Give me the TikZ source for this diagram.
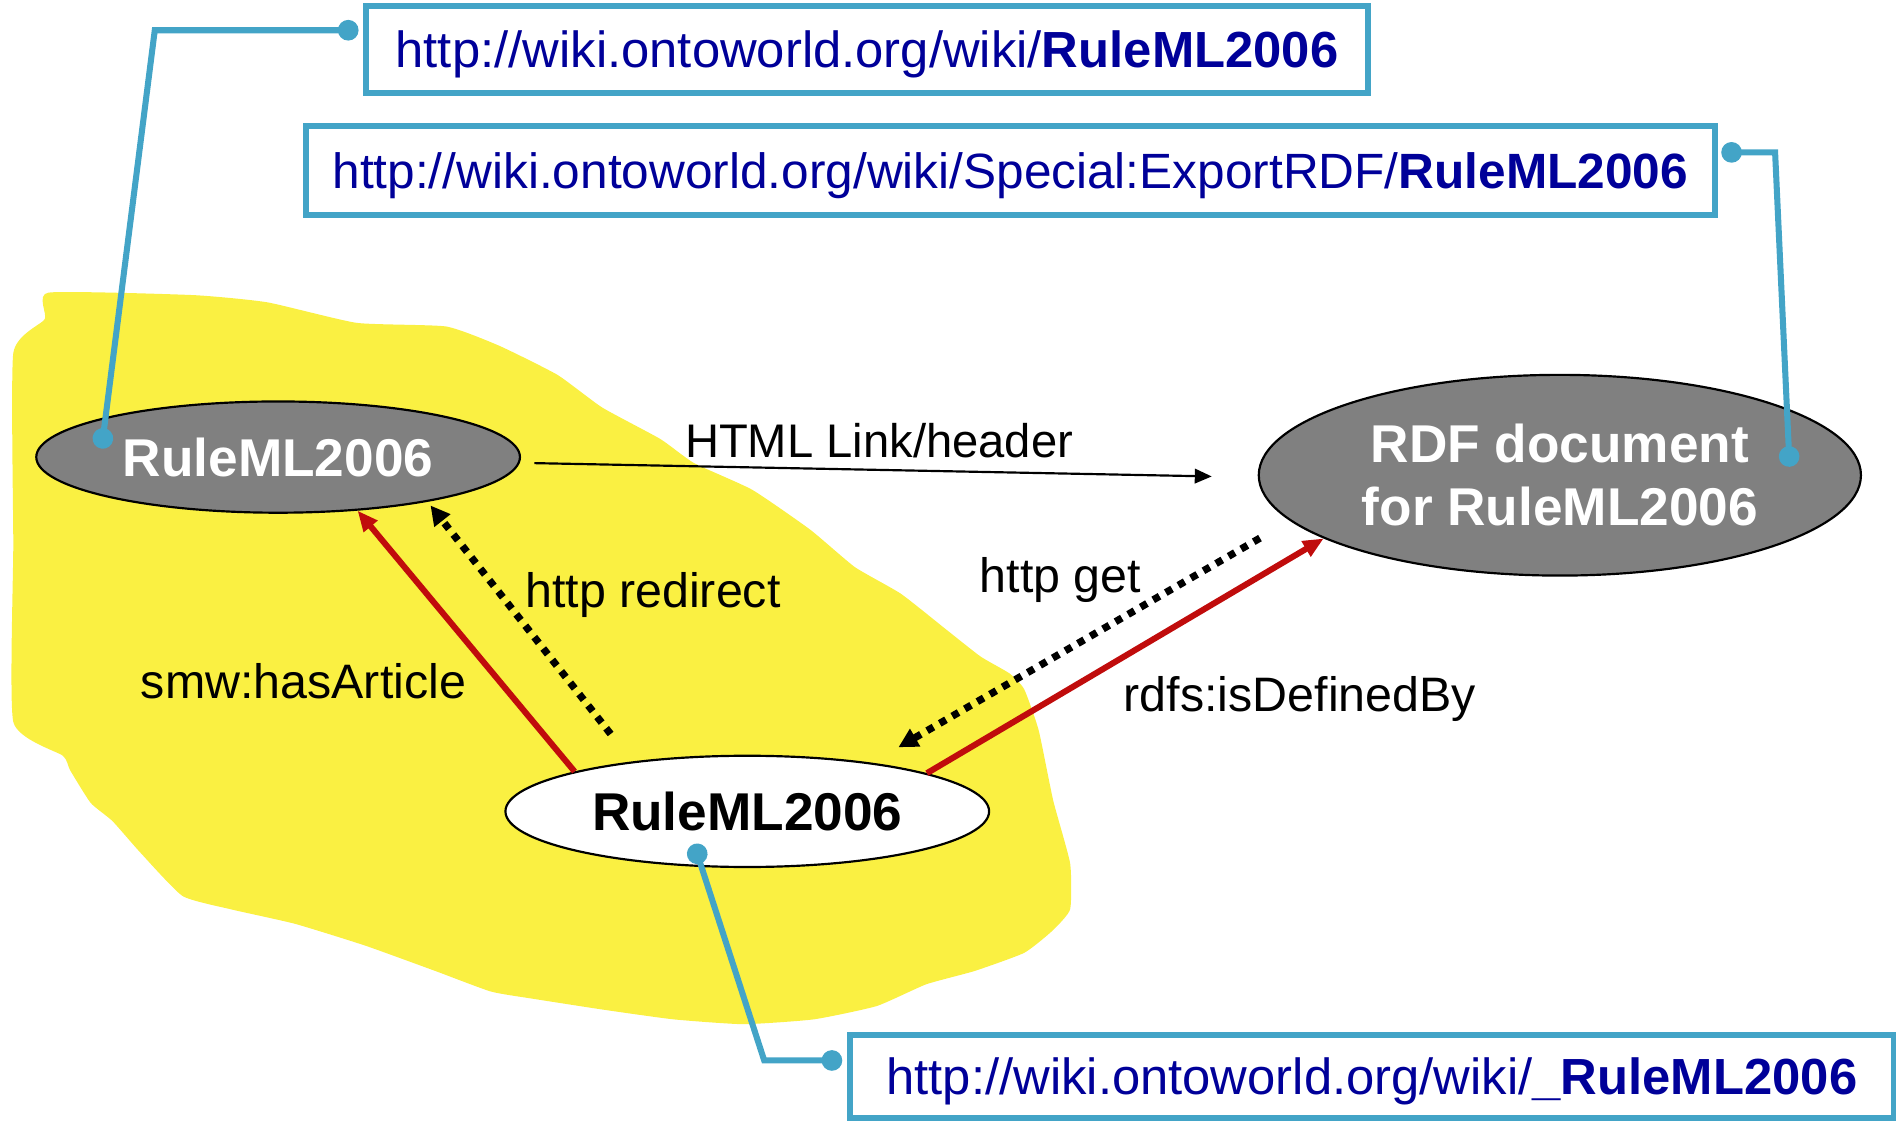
\documentclass[tikz,border=0pt]{standalone}
\usepackage{fontspec}
\setmainfont{Liberation Sans}
\usetikzlibrary{shapes.geometric,arrows.meta}
\definecolor{urltext}{RGB}{0,0,153}
\definecolor{calloutblue}{RGB}{67,164,199}
\definecolor{blobyellow}{RGB}{250,240,66}
\definecolor{linkred}{RGB}{192,12,12}
\definecolor{nodegray}{RGB}{128,128,128}

\begin{document}
\begin{tikzpicture}[x=1pt,y=-1pt]
	\tikzset{urlbox/.style={draw=calloutblue,line width=5pt,inner sep=0pt,text=urltext,
			font=\fontsize{42}{50}\selectfont,text height=30pt,text depth=0pt},
		wikinode/.style={ellipse,draw,line width=1.8pt,inner sep=0pt,minimum width=400pt,minimum height=92pt,
			font=\fontsize{44}{52}\selectfont\bfseries},
		graynode/.style={wikinode,fill=nodegray,text=white},
		resnode/.style={wikinode,fill=white,text=black,text height=32pt,text depth=0pt},
		edgelabel/.style={anchor=base,inner sep=0pt,font=\fontsize{40}{48}\selectfont},
		callout/.style={draw=calloutblue,line width=5pt,{Circle[length=17pt]}-{Circle[length=17pt]}},
		redarrow/.style={draw=linkred,line width=5pt,-{Triangle[length=17pt,width=14pt]}},
		htmlarrow/.style={draw,line width=1.8pt,-{Triangle[length=14pt,width=12pt]}},
		dotarrow/.style={draw,line width=6pt,dash pattern=on 6pt off 6pt,-{Triangle[length=16pt,width=16pt]}}}
	\useasboundingbox (0,0) rectangle (1568,927);
	\fill[blobyellow] plot[smooth cycle,tension=0.3] coordinates {(40,242) (159,244) (221,250) (295,267) (369,270) (413,286) (461,310) (498,337) (546,363) (574,383) (622,405) (670,438) (707,469) (745,491) (783,521) (811,543) (835,557) (847,570) (859,604) (871,662) (885,714) (885,752) (870,770) (847,788) (806,803) (766,814) (725,832) (673,843) (615,847) (557,843) (499,835) (441,826) (406,820) (360,803) (302,782) (244,764) (191,752) (151,741) (116,705) (93,679) (75,664) (58,637) (52,625) (11,597) (11,450) (11,292) (37,264)};
	\node[urlbox,minimum width=828pt,minimum height=72pt] (urlpage) at (717,41) {http://wiki.ontoworld.org/wiki/\textbf{RuleML2006}};
	\node[urlbox,minimum width=1165pt,minimum height=74pt,font=\fontsize{41}{50}\selectfont] (urlrdf) at (835.5,141) {http://wiki.ontoworld.org/wiki/Special:ExportRDF/\textbf{RuleML2006}};
	\node[urlbox,minimum width=863pt,minimum height=69pt] (urlres) at (1134.5,890.5) {http://wiki.ontoworld.org/wiki/\textbf{\_RuleML2006}};
	\node[graynode,text height=32pt,text depth=0pt] (art) at (230,378) {RuleML2006};
	\node[graynode,minimum width=498pt,minimum height=166pt,align=center] (rdf) at (1290,393) {RDF document\\for RuleML2006};
	\node[resnode] (res) at (618,671) {RuleML2006};
	\draw[htmlarrow] ([shift={(11,5)}]art.east) -- ([shift={(-38,1)}]rdf.west);
	\draw[redarrow] (res.167) -- (art.-34);
	\draw[redarrow] (res.12) -- (rdf.195);
	\draw[dotarrow] ([shift={(-113,-64)}]res.center) -- ([shift={(126,40)}]art.center);
	\draw[dotarrow] ([shift={(-248,52)}]rdf.center) -- ([shift={(125,-53)}]res.center);
	\draw[callout] ([shift={(-4,-16)}]urlpage.west) -- (128,25) -- ([shift={(-146,-7)}]art.center);
	\draw[callout] ([shift={(3,-15)}]urlrdf.east) -- (1468,126) -- ([shift={(190,-7)}]rdf.center);
	\draw[callout] ([shift={(-4,-13.5)}]urlres.west) -- (632,877) -- ([shift={(-44,27)}]res.center);
	\node[edgelabel,font=\fontsize{39}{48}\selectfont] (lhtml) at (727,378) {HTML Link/header};
	\node[edgelabel] (lredirect) at (540,502) {http redirect};
	\node[edgelabel] (larticle) at (251,578) {smw:hasArticle};
	\node[edgelabel] (lget) at (877,490) {http get};
	\node[edgelabel] (ldefined) at (1075,588) {rdfs:isDefinedBy};
\end{tikzpicture}
\end{document}
